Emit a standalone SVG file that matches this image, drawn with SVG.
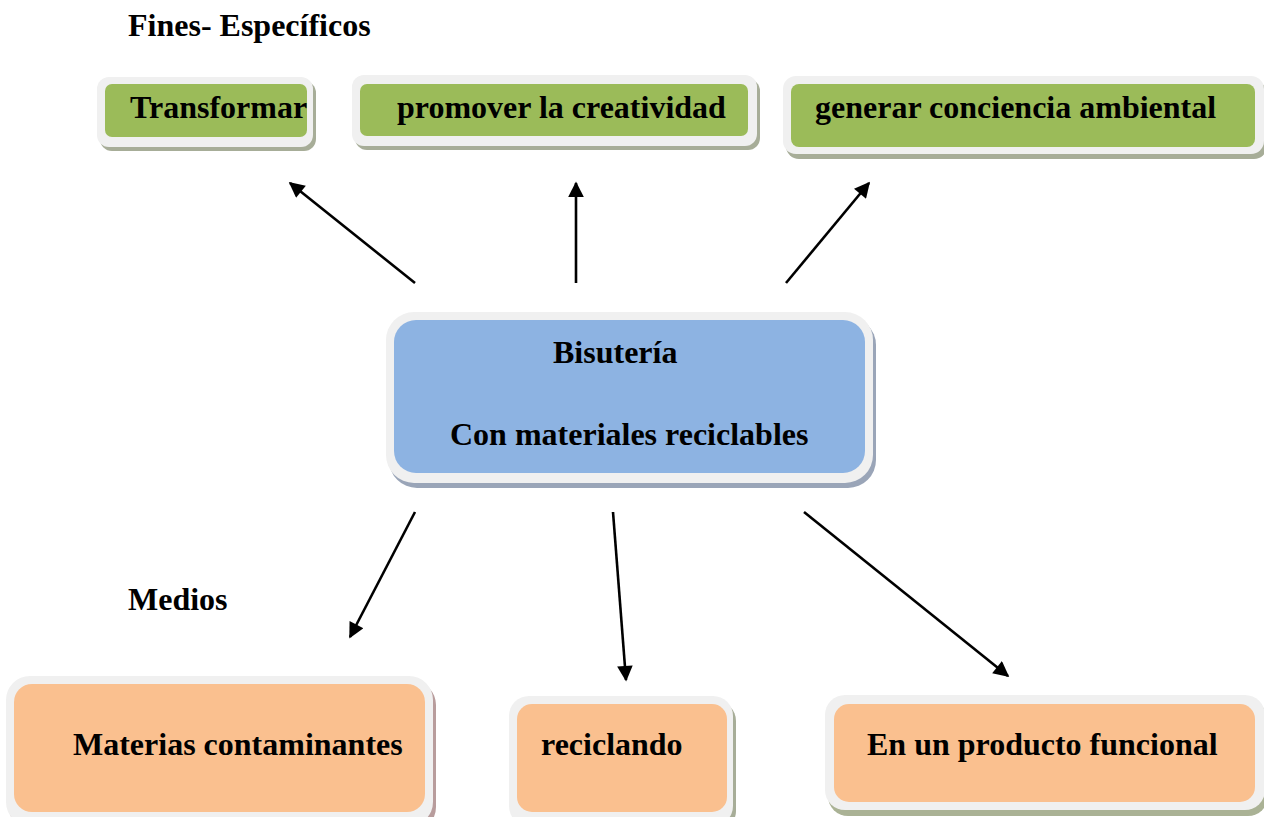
<svg xmlns="http://www.w3.org/2000/svg" width="1264" height="817" viewBox="0 0 1264 817">
<defs>
<style>
text{font-family:"Liberation Serif","Times New Roman",serif;font-weight:bold;font-size:32px;fill:#000}
.frame{fill:#f0f0f0}
.g{fill:#9bbb59}
.b{fill:#8db3e2}
.o{fill:#fac08f}
.conn line{stroke:#000;stroke-width:2.6;marker-end:url(#ah)}
</style>
<marker id="ah" viewBox="0 0 10 10" refX="9" refY="5" markerWidth="7" markerHeight="6" markerUnits="strokeWidth" orient="auto">
<path d="M0,0 L10,5 L0,10 z" fill="#000"/>
</marker>
</defs>
<rect width="1264" height="817" fill="#fff"/>
<text x="128" y="36">Fines- Específicos</text>
<text x="128" y="610">Medios</text>

<g id="transformar">
<rect x="100" y="81" width="216" height="70" rx="12" fill="#a7ad98"/>
<rect x="97" y="77" width="216" height="70" rx="12" class="frame"/>
<rect x="105" y="84" width="202" height="53" rx="7" class="g"/>
<text x="130" y="118">Transformar</text>
</g>
<g id="promover">
<rect x="355" y="79" width="405" height="71" rx="12" fill="#a7ad98"/>
<rect x="352" y="75" width="405" height="71" rx="12" class="frame"/>
<rect x="360" y="84" width="388" height="52" rx="7" class="g"/>
<text x="397" y="118">promover la creatividad</text>
</g>
<g id="generar">
<rect x="786" y="81" width="481" height="78" rx="13" fill="#a7ad98"/>
<rect x="783" y="76" width="481" height="78" rx="13" class="frame"/>
<rect x="791" y="84" width="464" height="63" rx="8" class="g"/>
<text x="815" y="118">generar conciencia ambiental</text>
</g>

<g id="bisuteria">
<rect x="389" y="317" width="487" height="171" rx="28" fill="#9aa5b8"/>
<rect x="386" y="312" width="487" height="171" rx="28" class="frame"/>
<rect x="394" y="320" width="471" height="153" rx="22" class="b"/>
<text x="553" y="363">Bisutería</text>
<text x="450" y="445">Con materiales reciclables</text>
</g>

<g id="materias">
<rect x="9" y="681" width="427" height="150" rx="24" fill="#b89c9c"/>
<rect x="6" y="676" width="427" height="150" rx="24" class="frame"/>
<rect x="14" y="684" width="411" height="128" rx="18" class="o"/>
<text x="73" y="755">Materias contaminantes</text>
</g>
<g id="reciclando">
<rect x="512" y="701" width="224" height="130" rx="20" fill="#a7ad98"/>
<rect x="509" y="696" width="224" height="130" rx="20" class="frame"/>
<rect x="517" y="704" width="210" height="108" rx="15" class="o"/>
<text x="541" y="755">reciclando</text>
</g>
<g id="producto">
<rect x="828" y="701" width="440" height="115" rx="20" fill="#aab295"/>
<rect x="825" y="695" width="440" height="115" rx="20" class="frame"/>
<rect x="834" y="704" width="421" height="98" rx="15" class="o"/>
<text x="867" y="755">En un producto funcional</text>
</g>

<g id="connectors" class="conn">
<line x1="415" y1="283" x2="290" y2="183"/>
<line x1="576" y1="283" x2="576" y2="183"/>
<line x1="786" y1="283" x2="869" y2="183"/>
<line x1="415" y1="512" x2="350" y2="637"/>
<line x1="613" y1="512" x2="626" y2="680"/>
<line x1="804" y1="512" x2="1008" y2="676"/>
</g>
</svg>
